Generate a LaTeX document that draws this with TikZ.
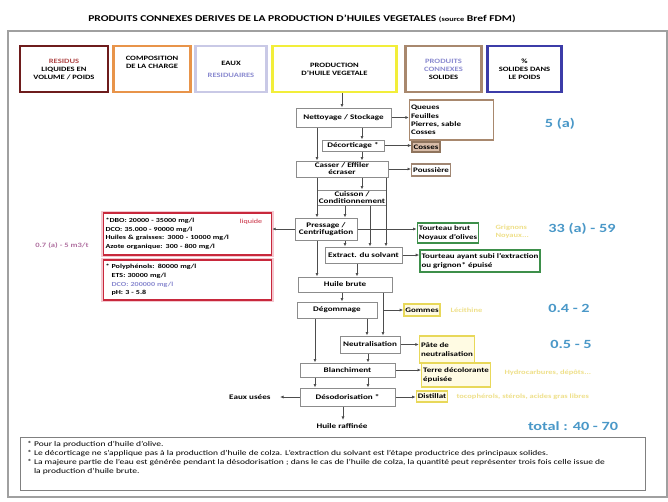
\documentclass[tikz,border=0pt]{standalone}
\usepackage{fontspec}
\setmainfont[FakeStretch=1.3]{Carlito}
\usetikzlibrary{arrows.meta}
\definecolor{maroon}{HTML}{6E1C1C}
\definecolor{resred}{HTML}{B04848}
\definecolor{orng}{HTML}{E8944A}
\definecolor{lavb}{HTML}{C9C9E6}
\definecolor{lavt}{HTML}{8A8AD0}
\definecolor{yell}{HTML}{F2EE3A}
\definecolor{tan}{HTML}{A8886E}
\definecolor{bluebox}{HTML}{3C3CA8}
\definecolor{flowgray}{HTML}{8C8C8C}
\definecolor{linegray}{HTML}{4D4D4D}
\definecolor{grn}{HTML}{3D8F4A}
\definecolor{ybord}{HTML}{E8D85A}
\definecolor{yfill}{HTML}{FFFBE3}
\definecolor{redbox}{HTML}{C8283C}
\definecolor{pinkhalo}{HTML}{F4C8D0}
\definecolor{bnum}{HTML}{4A98C8}
\definecolor{fainty}{HTML}{EFE08A}
\definecolor{mauve}{HTML}{B070A0}
\definecolor{cossefill}{HTML}{D8BCA8}
\definecolor{framegray}{HTML}{A0A0A0}
\begin{document}
\begin{tikzpicture}[x=1pt,y=-1pt,
  hdr/.style={draw, line width=2.2pt, fill=white, align=center, inner sep=1pt,
    font=\fontsize{6.6}{8}\selectfont\bfseries, minimum height=46pt},
  flow/.style={draw=flowgray, line width=1pt, fill=white, align=center, inner sep=1pt,
    font=\fontsize{7}{7}\selectfont\bfseries},
  side/.style={line width=1pt, fill=white, align=left, inner sep=1.5pt,
    font=\fontsize{6.9}{8.4}\selectfont\bfseries},
  grnbox/.style={side, draw=grn, line width=1.6pt},
  ybox/.style={side, draw=ybord, fill=yfill, line width=1.4pt},
  tanbox/.style={side, draw=tan, line width=1.2pt},
  redb/.style={draw=redbox, line width=1.4pt, fill=white, align=left, inner sep=2pt,
    font=\fontsize{6.2}{8.6}\selectfont\bfseries},
  bluenum/.style={text=bnum, font=\fontsize{12.5}{13}\selectfont\bfseries},
  faint/.style={text=fainty, font=\fontsize{6.5}{8}\selectfont\bfseries, align=left},
  plain/.style={font=\fontsize{7}{8}\selectfont\bfseries},
  arr/.style={draw=linegray, line width=0.7pt, -{Latex[length=3.5pt,width=3pt]}}
]
\useasboundingbox (0,0) rectangle (668,501);
\fill[white] (0,0) rectangle (668,501);

% title and frame
\node[font=\fontsize{8.9}{9}\selectfont\bfseries] (title) at (302,19)
  {PRODUITS CONNEXES DERIVES DE LA PRODUCTION D'HUILES VEGETALES {\fontsize{6.4}{7}\selectfont(source} Bref FDM)};
\draw[framegray, line width=1.2pt] (8,31) rectangle (667,497);

% header boxes
\node[hdr, draw=maroon, minimum width=88pt] (h1) at (64,69)
  {\textcolor{resred}{RESIDUS}\\LIQUIDES EN\\VOLUME / POIDS};
\node[hdr, draw=orng, minimum width=77pt] (h2) at (152,69)
  {COMPOSITION\\DE LA CHARGE\\[6pt]};
\node[hdr, draw=lavb, minimum width=71pt] (h3) at (231,69)
  {EAUX\\[4pt]\textcolor{lavt}{RESIDUAIRES}};
\node[hdr, draw=yell, minimum width=124pt] (h4) at (334.5,69)
  {PRODUCTION\\D'HUILE VEGETALE};
\node[hdr, draw=tan, minimum width=76pt] (h5) at (443.5,69)
  {\textcolor{lavt}{PRODUITS}\\\textcolor{lavt}{CONNEXES}\\SOLIDES};
\node[hdr, draw=bluebox, minimum width=74pt] (h6) at (524.5,69)
  {\%\\SOLIDES DANS\\LE POIDS};

% column coordinates
\coordinate (x315) at (315,0);
\coordinate (x317) at (317,0);
\coordinate (x342) at (342,0);
\coordinate (x343) at (343,0);
\coordinate (x345) at (345,0);
\coordinate (x357) at (357,0);
\coordinate (x362) at (362,0);
\coordinate (x367) at (367,0);
\coordinate (x368) at (368,0);
\coordinate (x370) at (370,0);
\coordinate (x383) at (383,0);
\coordinate (x386) at (386,0);

% flow boxes
\node[flow, minimum width=95pt, minimum height=19pt] (n1) at (343.5,117.5) {Nettoyage / Stockage};
\node[flow, minimum width=62pt, minimum height=11pt] (n2) at (353,145.5) {Décorticage *};
\node[flow, minimum width=92pt, minimum height=16pt] (n3) at (342,169) {Casser / Effiler\\écraser};
\node[flow, minimum width=64pt, minimum height=15pt] (n4) at (352,197.5) {Cuisson /\\Conditionnement};
\node[flow, minimum width=62pt, minimum height=22pt] (n5) at (326,229) {Pressage /\\Centrifugation};
\node[flow, minimum width=77pt, minimum height=16pt] (n6) at (363.5,255) {Extract. du solvant};
\node[flow, minimum width=94pt, minimum height=15pt] (n7) at (345,284.5) {Huile brute};
\node[flow, minimum width=80pt, minimum height=16pt] (n8) at (337,310) {Dégommage};
\node[flow, minimum width=60pt, minimum height=17pt] (n9) at (370,344.5) {Neutralisation};
\node[flow, minimum width=95pt, minimum height=14pt] (n10) at (347.5,370) {Blanchiment};
\node[flow, minimum width=95pt, minimum height=18pt] (n11) at (347.5,397) {Désodorisation *};
\node[plain, anchor=east] (eaux) at (274,397) {Eaux usées};
\node[plain] (raff) at (342,426) {Huile raffinée};

% side product boxes
\node[tanbox, text width=81pt, minimum height=40pt] (p1) at (451.5,120) {Queues\\Feuilles\\Pierres, sable\\Cosses};
\node[tanbox, draw=tan!85!black, fill=cossefill, minimum height=10pt] (p2) at (426,147) {Cosses};
\node[tanbox, draw=tan!80!gray, minimum height=12pt] (p3) at (431,170) {Poussière};
\node[grnbox, minimum height=20pt] (g1) at (448,233) {Tourteau brut\\Noyaux d'olives};
\node[grnbox, minimum height=22pt] (g2) at (480,261) {Tourteau ayant subi l'extraction\\ou grignon* épuisé};
\node[ybox, minimum height=12pt] (y1) at (422,310) {Gommes};
\node[ybox, minimum height=27pt] (y2) at (447,349.5) {Pâte de\\neutralisation};
\node[ybox, minimum height=24pt] (y3) at (456,375) {Terre décolorante\\épuisée};
\node[ybox, minimum height=11pt] (y4) at (432,396.5) {Distillat};

% faint yellow annotations
\node[faint, anchor=west] (f1) at (492,232) {Grignons\\Noyaux...};
\node[faint, anchor=west] (f2) at (447,310) {Lécithine};
\node[faint, anchor=west] (f3) at (501,373) {Hydrocarbures, dépôts...};
\node[faint, anchor=west] (f4) at (453,396.5) {tocophérols, stérols, acides gras libres};

% red boxes
\node[draw=pinkhalo, line width=2.5pt, minimum width=171pt, minimum height=44pt] (r1h) at (187.5,234) {};
\node[draw=pinkhalo, line width=2.5pt, minimum width=171pt, minimum height=42pt] (r2h) at (187.5,280) {};
\node[redb, text width=164pt, minimum height=42pt] (r1) at (187.5,234)
  {*DBO: 20000 - 35000 mg/l\\*DCO: 35.000 - 90000 mg/l\\*Huiles \& graisses: 3000 - 10000 mg/l\\*Azote organique: 300 - 800 mg/l};
\node[redb, text width=164pt, minimum height=40pt] (r2) at (187.5,280)
  {* Polyphénols: 80000 mg/l\\\phantom{*} ETS: 30000 mg/l\\\phantom{*} \textcolor{lavt}{DCO: 200000 mg/l}\\\phantom{*} pH: 3 - 5.8};
\node[text=redbox, font=\fontsize{6.2}{7}\selectfont] (liq) at (251,222) {liquide};
\node[text=mauve, font=\fontsize{6.6}{8}\selectfont\bfseries] (vol) at (62,246) {0.7 (a) - 5 m3/t};

% blue numbers
\node[bluenum] (b1) at (560,124) {5 (a)};
\node[bluenum] (b2) at (582,229) {33 (a) - 59};
\node[bluenum] (b3) at (569,308) {0.4 - 2};
\node[bluenum] (b4) at (571,344) {0.5 - 5};
\node[bluenum] (b5) at (573,426) {total : 40 - 70};

% footnote
\draw[draw=gray, line width=1pt] (20,437) rectangle (645,490);
\node[anchor=north west, align=left, inner sep=0pt, font=\fontsize{7.3}{9}\selectfont] (foot) at (27,441)
  {* Pour la production d'huile d'olive.\\
   * Le décorticage ne s'applique pas à la production d'huile de colza. L'extraction du solvant est l'étape productrice des principaux solides.\\
   * La majeure partie de l'eau est générée pendant la désodorisation ; dans le cas de l'huile de colza, la quantité peut représenter trois fois celle issue de\\
   \phantom{* }la production d'huile brute.};

% connectors
\draw[arr] (h4.south -| x342) -- (n1.north -| x342);
\draw[arr] (n1.east) -- (p1.west |- n1.east);
\draw[arr] (n1.south -| x362) -- (n2.north -| x362);
\draw[arr] (n2.east) -- (p2.west |- n2.east);
\draw[arr] (n1.south -| x317) -- (n3.north -| x317);
\draw[arr] (n2.south -| x362) -- (n3.north -| x362);
\draw[arr] (n3.east) -- (p3.west |- n3.east);
\draw[arr] (n3.south -| x362) -- (n4.north -| x362);
\draw[arr] (n3.south -| x317) -- (n5.north -| x317);
\draw[arr] (n4.south -| x345) -- (n5.north -| x345);
\draw[arr] (n4.south -| x370) -- (n6.north -| x370);
\draw[arr] (n3.south -| x386) -- (n6.north -| x386);
\draw[arr] (n5.west) -- (r1.east |- n5.west);
\draw[arr] (n5.east) -- (g1.west |- n5.east);
\draw[arr] (n5.south -| x345) -- (n6.north -| x345);
\draw[arr] (n5.south -| x317) -- (n7.north -| x317);
\draw[arr] (n6.south -| x357) -- (n7.north -| x357);
\draw[arr] (n6.east) -- (g2.west |- n6.east);
\draw[arr] (n7.south -| x342) -- (n8.north -| x342);
\draw[arr] (n7.south -| x383) -- (n9.north -| x383);
\draw[arr] (n8.east -| x383) -- (y1.west |- n8.east);
\draw[arr] (n8.south -| x367) -- (n9.north -| x367);
\draw[arr] (n8.south -| x315) -- (n10.north -| x315);
\draw[arr] (n9.south -| x368) -- (n10.north -| x368);
\draw[arr] (n9.east) -- (y2.west |- n9.east);
\draw[arr] (n10.east) -- (y3.west |- n10.east);
\draw[arr] (n10.south -| x315) -- (n11.north -| x315);
\draw[arr] (n10.south -| x368) -- (n11.north -| x368);
\draw[arr] (n11.west) -- ([xshift=6pt]eaux.east);
\draw[arr] (n11.south -| x343) -- (raff.north -| x343);
\draw[arr] (n11.east) -- (y4.west |- n11.east);
\end{tikzpicture}
\end{document}
